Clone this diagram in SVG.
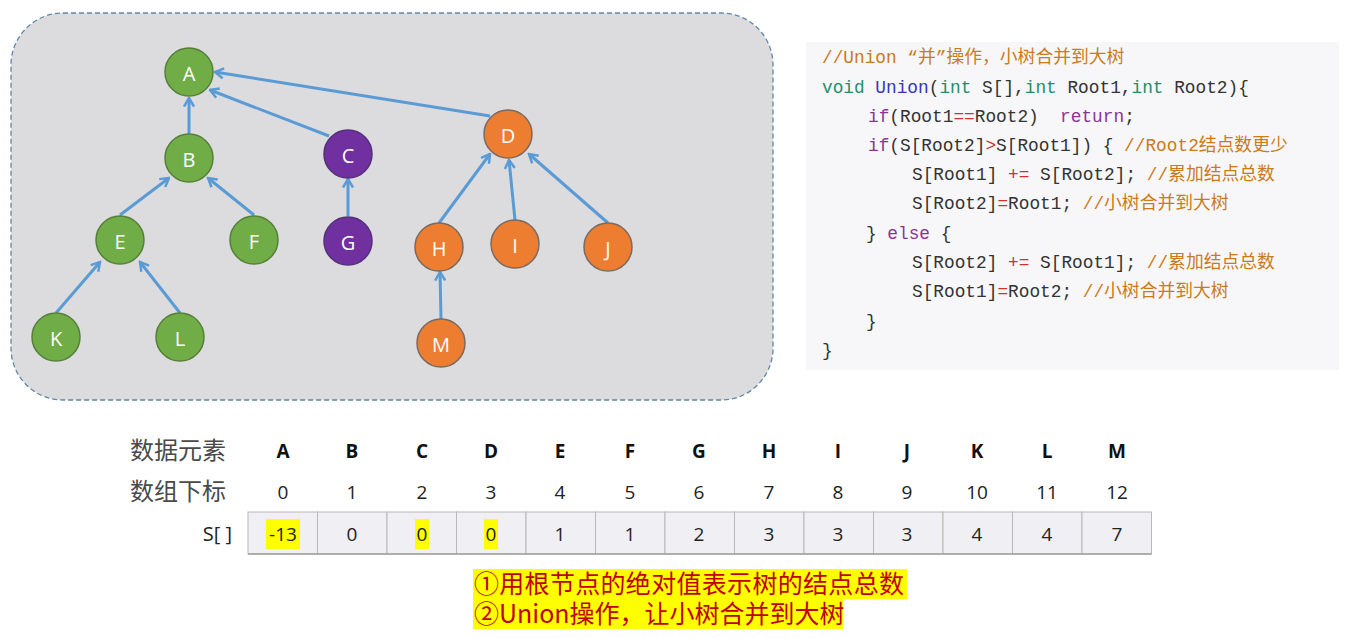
<svg xmlns="http://www.w3.org/2000/svg" width="1347" height="638" viewBox="0 0 1347 638">
  <style>
    .node-label { font-family: "Open Sans", "Liberation Sans", sans-serif; font-size: 20px; fill: #ffffff; text-anchor: middle; dominant-baseline: central; }
    .green { fill: #70ad47; stroke: #567f3a; stroke-width: 1.5; }
    .purple { fill: #7030a0; stroke: #55307a; stroke-width: 1.5; }
    .orange { fill: #ed7d31; stroke: #7a6a60; stroke-width: 1.5; }
    .edge { stroke: #5b9bd5; stroke-width: 3; fill: none; marker-end: url(#chevron); }
    .code { font-family: "Liberation Mono", "Noto Sans CJK SC", monospace; font-size: 17.8px; fill: #333333; }
    .cm { fill: #cc7a1a; }
    .kw { fill: #1f8f6c; }
    .fn { fill: #3636c0; }
    .ctl { fill: #8a3596; }
    .op { fill: #d03030; }
    .cn { font-family: "Noto Sans CJK SC", sans-serif; font-size: 24px; fill: #4a4a4a; }
    .hdr { font-family: "Open Sans", "Liberation Sans", sans-serif; font-size: 19px; font-weight: bold; fill: #111111; text-anchor: middle; }
    .num { font-family: "Open Sans", "Liberation Sans", sans-serif; font-size: 19px; fill: #222222; text-anchor: middle; }
    .cell { fill: #f0eff3; stroke: #b8b8b8; stroke-width: 1; }
    .hl { fill: #ffff00; }
    .note { font-family: "Noto Sans CJK SC", sans-serif; font-size: 25px; fill: #c00000; }
  </style>
  <defs>
    <marker id="chevron" viewBox="0 0 12 12" markerWidth="12" markerHeight="12" refX="10.5" refY="6" orient="auto" markerUnits="userSpaceOnUse">
      <path d="M2,1 L10.5,6 L2,11" fill="none" stroke="#5b9bd5" stroke-width="2.5" stroke-linejoin="miter"/>
    </marker>
  </defs>

  <rect width="1347" height="638" fill="#ffffff"/>

  <!-- forest panel -->
  <rect x="11" y="13" width="762" height="387" rx="52" ry="52" fill="#dcdcdf" stroke="#5f86a6" stroke-width="1.3" stroke-dasharray="5,3"/>

  <!-- parent pointers -->
  <g id="connectors">
    <line class="edge" x1="189" y1="134" x2="189" y2="98"/>
    <line class="edge" x1="329" y1="136" x2="210" y2="90"/>
    <line class="edge" x1="490" y1="116" x2="215" y2="72"/>
    <line class="edge" x1="120" y1="215" x2="169" y2="178"/>
    <line class="edge" x1="254" y1="215" x2="208" y2="178"/>
    <line class="edge" x1="348" y1="216" x2="348" y2="179"/>
    <line class="edge" x1="56" y1="313" x2="100" y2="262"/>
    <line class="edge" x1="180" y1="313" x2="140" y2="262"/>
    <line class="edge" x1="439" y1="223" x2="490" y2="154"/>
    <line class="edge" x1="515" y1="220" x2="509" y2="160"/>
    <line class="edge" x1="608" y1="223" x2="529" y2="154"/>
    <line class="edge" x1="441" y1="319" x2="440" y2="272"/>
  </g>

  <!-- tree nodes -->
  <g id="node-A"><circle class="green" cx="189" cy="72" r="24"/><text class="node-label" x="189" y="73">A</text></g>
  <g id="node-B"><circle class="green" cx="189" cy="158" r="24"/><text class="node-label" x="189" y="159">B</text></g>
  <g id="node-C"><circle class="purple" cx="348" cy="154" r="24"/><text class="node-label" x="348" y="155">C</text></g>
  <g id="node-D"><circle class="orange" cx="508" cy="134" r="24"/><text class="node-label" x="508" y="135">D</text></g>
  <g id="node-E"><circle class="green" cx="120" cy="240" r="24"/><text class="node-label" x="120" y="241">E</text></g>
  <g id="node-F"><circle class="green" cx="254" cy="240" r="24"/><text class="node-label" x="254" y="241">F</text></g>
  <g id="node-G"><circle class="purple" cx="348" cy="241" r="24"/><text class="node-label" x="348" y="242">G</text></g>
  <g id="node-H"><circle class="orange" cx="439" cy="247" r="24"/><text class="node-label" x="439" y="248">H</text></g>
  <g id="node-I"><circle class="orange" cx="515" cy="244" r="24"/><text class="node-label" x="515" y="245">I</text></g>
  <g id="node-J"><circle class="orange" cx="608" cy="247" r="24"/><text class="node-label" x="608" y="248">J</text></g>
  <g id="node-K"><circle class="green" cx="56" cy="337" r="24"/><text class="node-label" x="56" y="338">K</text></g>
  <g id="node-L"><circle class="green" cx="180" cy="337" r="24"/><text class="node-label" x="180" y="338">L</text></g>
  <g id="node-M"><circle class="orange" cx="441" cy="343" r="24"/><text class="node-label" x="441" y="344">M</text></g>

  <!-- Union source code -->
  <g id="code">
    <rect x="806" y="42" width="533" height="328" fill="#f7f7f9"/>
    <text class="code" xml:space="preserve">
      <tspan x="822" y="63" class="cm">//Union “并”操作，小树合并到大树</tspan>
      <tspan x="822" y="93"><tspan class="kw">void</tspan> <tspan class="fn">Union</tspan>(<tspan class="kw">int</tspan> S[],<tspan class="kw">int</tspan> Root1,<tspan class="kw">int</tspan> Root2){</tspan>
      <tspan x="868" y="122"><tspan class="ctl">if</tspan>(Root1<tspan class="op">==</tspan>Root2)  <tspan class="ctl">return</tspan>;</tspan>
      <tspan x="868" y="151"><tspan class="ctl">if</tspan>(S[Root2]<tspan class="op">&gt;</tspan>S[Root1]) { <tspan class="cm">//Root2结点数更少</tspan></tspan>
      <tspan x="912" y="180">S[Root1] <tspan class="op">+=</tspan> S[Root2]; <tspan class="cm">//累加结点总数</tspan></tspan>
      <tspan x="912" y="209">S[Root2]<tspan class="op">=</tspan>Root1; <tspan class="cm">//小树合并到大树</tspan></tspan>
      <tspan x="866" y="239">} <tspan class="ctl">else</tspan> {</tspan>
      <tspan x="912" y="268">S[Root2] <tspan class="op">+=</tspan> S[Root1]; <tspan class="cm">//累加结点总数</tspan></tspan>
      <tspan x="912" y="297">S[Root1]<tspan class="op">=</tspan>Root2; <tspan class="cm">//小树合并到大树</tspan></tspan>
      <tspan x="866" y="327">}</tspan>
      <tspan x="822" y="356">}</tspan>
    </text>
  </g>

  <!-- array table -->
  <g id="table">
    <text class="cn" x="130" y="459">数据元素</text>
    <text class="cn" x="130" y="500">数组下标</text>
    <text class="num" x="232" y="541" style="text-anchor:end;font-size:20px">S[ ]</text>

    <g class="cells">
      <rect class="cell" x="248" y="512" width="69.5" height="42"/>
      <rect class="cell" x="317.5" y="512" width="69.5" height="42"/>
      <rect class="cell" x="387" y="512" width="69.5" height="42"/>
      <rect class="cell" x="456.5" y="512" width="69.5" height="42"/>
      <rect class="cell" x="526" y="512" width="69.5" height="42"/>
      <rect class="cell" x="595.5" y="512" width="69.5" height="42"/>
      <rect class="cell" x="665" y="512" width="69.5" height="42"/>
      <rect class="cell" x="734.5" y="512" width="69.5" height="42"/>
      <rect class="cell" x="804" y="512" width="69.5" height="42"/>
      <rect class="cell" x="873.5" y="512" width="69.5" height="42"/>
      <rect class="cell" x="943" y="512" width="69.5" height="42"/>
      <rect class="cell" x="1012.5" y="512" width="69.5" height="42"/>
      <rect class="cell" x="1082" y="512" width="69.5" height="42"/>
      <line x1="248" y1="554" x2="1151.5" y2="554" stroke="#a0a0a0" stroke-width="1.5"/>
    </g>

    <rect class="hl" x="266" y="519" width="34" height="30"/>
    <rect class="hl" x="415" y="519" width="14" height="30"/>
    <rect class="hl" x="484" y="519" width="14" height="30"/>

    <text class="hdr" y="458">
      <tspan x="283">A</tspan><tspan x="352">B</tspan><tspan x="422">C</tspan><tspan x="491">D</tspan><tspan x="560">E</tspan><tspan x="630">F</tspan><tspan x="699">G</tspan><tspan x="769">H</tspan><tspan x="838">I</tspan><tspan x="907">J</tspan><tspan x="977">K</tspan><tspan x="1047">L</tspan><tspan x="1117">M</tspan>
    </text>
    <text class="num" y="499">
      <tspan x="283">0</tspan><tspan x="352">1</tspan><tspan x="422">2</tspan><tspan x="491">3</tspan><tspan x="560">4</tspan><tspan x="630">5</tspan><tspan x="699">6</tspan><tspan x="769">7</tspan><tspan x="838">8</tspan><tspan x="907">9</tspan><tspan x="977">10</tspan><tspan x="1047">11</tspan><tspan x="1117">12</tspan>
    </text>
    <text class="num" y="541">
      <tspan x="283">-13</tspan><tspan x="352">0</tspan><tspan x="422">0</tspan><tspan x="491">0</tspan><tspan x="560">1</tspan><tspan x="630">1</tspan><tspan x="699">2</tspan><tspan x="769">3</tspan><tspan x="838">3</tspan><tspan x="907">3</tspan><tspan x="977">4</tspan><tspan x="1047">4</tspan><tspan x="1117">7</tspan>
    </text>
  </g>

  <!-- notes -->
  <g id="notes">
    <rect class="hl" x="473" y="569" width="434" height="30"/>
    <rect class="hl" x="473" y="599" width="370" height="30"/>
    <text class="note" x="474" y="593" textLength="430" lengthAdjust="spacing">①用根节点的绝对值表示树的结点总数</text>
    <text class="note" x="474" y="623">②Union操作，让小树合并到大树</text>
  </g>
</svg>
